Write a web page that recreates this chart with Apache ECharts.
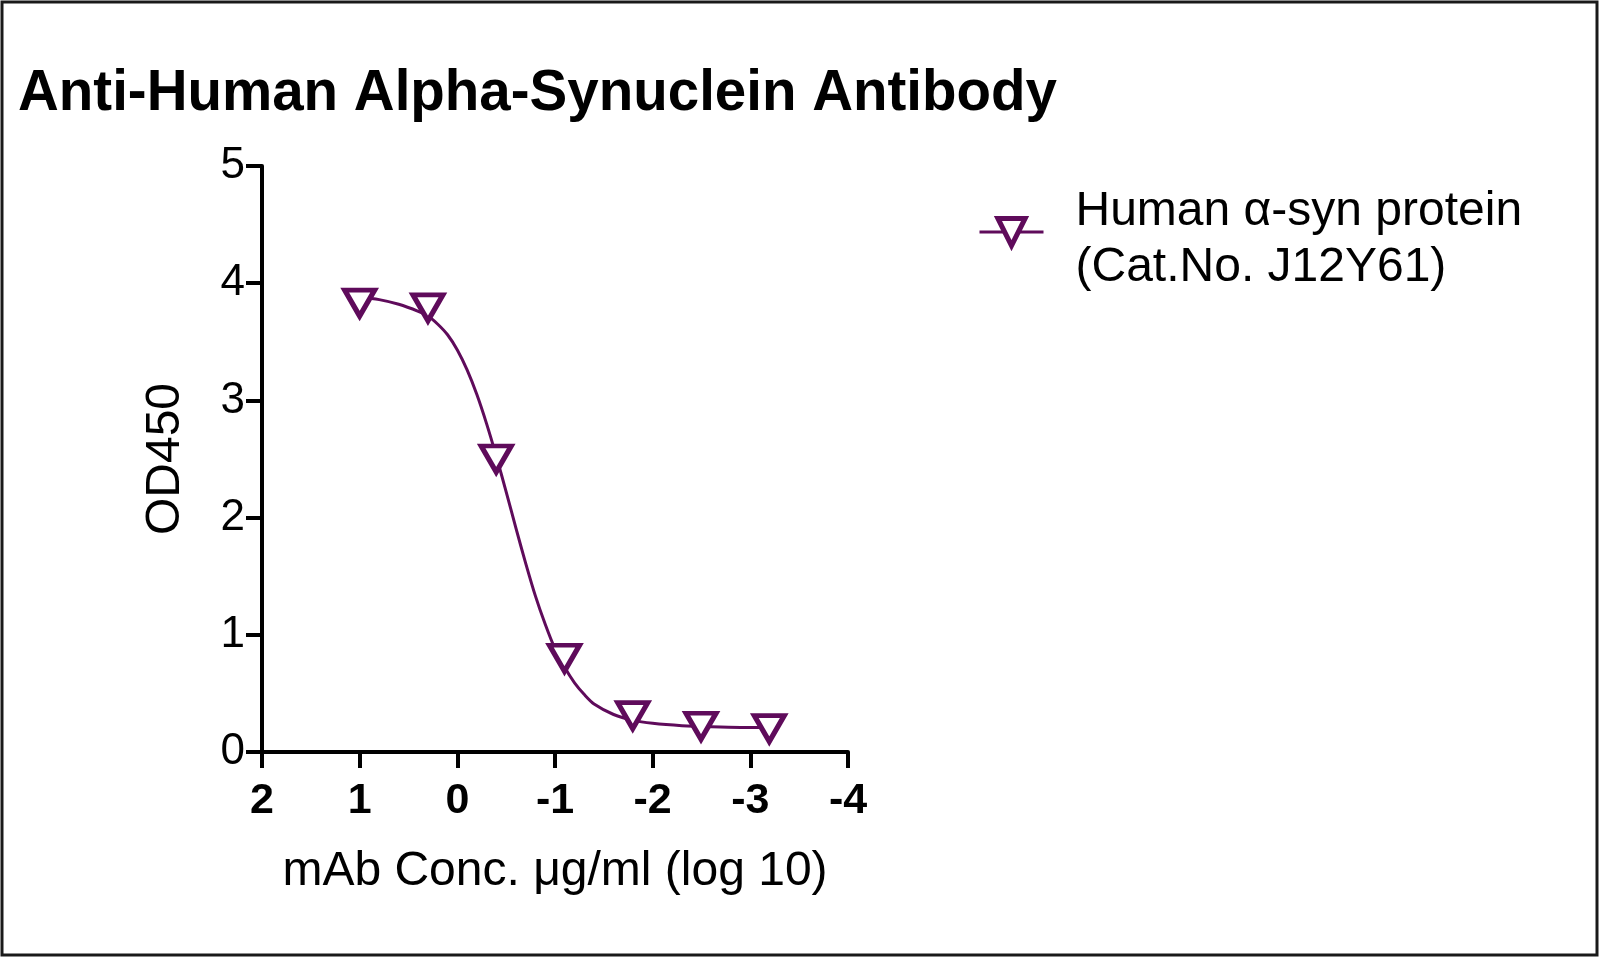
<!DOCTYPE html>
<html>
<head>
<meta charset="utf-8">
<title>Anti-Human Alpha-Synuclein Antibody</title>
<script src="https://cdn.jsdelivr.net/npm/echarts@6/dist/echarts.min.js"></script>
<style>
  html, body { margin: 0; padding: 0; background: #fff; }
  #chart { width: 1600px; height: 959px; }
</style>
</head>
<body>
<div id="chart"></div>
<script>
// 数据: log10 浓度 与 OD450
var seriesName = 'Human α-syn protein\n(Cat.No. J12Y61)';
var logConc = [1, 0.301, -0.398, -1.097, -1.796, -2.495, -3.194];
var od450 = [3.83, 3.79, 2.50, 0.80, 0.31, 0.22, 0.20];

// 拟合曲线
var curveX = [1.0, 0.8, 0.6, 0.4, 0.3, 0.2, 0.1, 0.0, -0.1, -0.2, -0.3, -0.4, -0.5, -0.6, -0.7,
  -0.8, -0.9, -1.0, -1.1, -1.2, -1.3, -1.4, -1.6, -1.8, -2.0, -2.3, -2.6, -2.9, -3.194];
var curveY = [3.88, 3.86, 3.82, 3.76, 3.72, 3.65, 3.56, 3.43, 3.26, 3.05, 2.80, 2.52, 2.22, 1.91, 1.61,
  1.33, 1.09, 0.88, 0.72, 0.59, 0.49, 0.41, 0.32, 0.27, 0.245, 0.225, 0.215, 0.21, 0.21];

var xTicks = {min: -4, max: 2, interval: 1};
var yTicks = {min: 0, max: 5, interval: 1};

var purple = '#5f0b5b';
var font = '"Liberation Sans", Arial, sans-serif';

var chart = echarts.init(document.getElementById('chart'));

var curveData = [];
for (var i = 0; i < curveX.length; i++) {
  curveData.push([curveX[i], curveY[i]]);
}
var pointData = [];
for (var j = 0; j < logConc.length; j++) {
  pointData.push([logConc[j], od450[j]]);
}

chart.setOption({
  backgroundColor: '#fff',
  animation: false,
  title: {
    text: 'Anti-Human Alpha-Synuclein Antibody',
    left: 13,
    top: 61,
    textStyle: {
      fontFamily: font,
      fontSize: 56.5,
      fontWeight: 'bold',
      color: '#000'
    }
  },
  legend: {
    data: [seriesName],
    left: 973,
    top: 163,
    itemWidth: 64,
    itemHeight: 34,
    itemStyle: { color: '#fff', borderColor: purple, borderWidth: 5 },
    lineStyle: { color: purple, width: 3 },
    // 上面加一行空白, 让图标比文字中心略高
    formatter: function (name) {
      return '{s| }\n' + name;
    },
    textStyle: {
      fontFamily: font,
      fontSize: 48,
      lineHeight: 56,
      color: '#000',
      padding: [0, 0, 0, 27],
      rich: {
        s: { fontSize: 10, lineHeight: 16 }
      }
    }
  },
  grid: {
    left: 262,
    top: 166,
    right: 752,
    bottom: 207
  },
  xAxis: {
    type: 'value',
    inverse: true,
    min: xTicks.min,
    max: xTicks.max,
    interval: xTicks.interval,
    name: 'mAb Conc. μg/ml (log 10)',
    nameLocation: 'middle',
    nameGap: 96,
    nameTextStyle: {
      fontFamily: font,
      fontSize: 48,
      color: '#000'
    },
    axisLine: { onZero: false, lineStyle: { color: '#000', width: 4 } },
    axisTick: { show: true, length: 16, lineStyle: { color: '#000', width: 4 } },
    axisLabel: {
      margin: 28,
      fontFamily: font,
      fontSize: 43,
      fontWeight: 'bold',
      color: '#000'
    },
    splitLine: { show: false }
  },
  yAxis: {
    type: 'value',
    min: yTicks.min,
    max: yTicks.max,
    interval: yTicks.interval,
    name: 'OD450',
    nameLocation: 'middle',
    nameGap: 72,
    nameTextStyle: {
      fontFamily: font,
      fontSize: 48,
      color: '#000'
    },
    axisLine: { show: true, onZero: false, lineStyle: { color: '#000', width: 4 } },
    axisTick: { show: true, length: 16, lineStyle: { color: '#000', width: 4 } },
    axisLabel: {
      margin: 17,
      fontFamily: font,
      fontSize: 44,
      color: '#000'
    },
    splitLine: { show: false }
  },
  series: [
    {
      name: seriesName,
      type: 'line',
      data: curveData,
      smooth: 0.3,
      showSymbol: false,
      symbol: 'triangle',
      symbolRotate: 180,
      lineStyle: { color: purple, width: 3 },
      itemStyle: { color: '#fff', borderColor: purple, borderWidth: 5 },
      z: 2
    },
    {
      name: seriesName,
      type: 'scatter',
      data: pointData,
      symbol: 'triangle',
      symbolRotate: 180,
      symbolSize: [30, 26],
      itemStyle: { color: '#fff', borderColor: purple, borderWidth: 5, opacity: 1 },
      z: 3
    }
  ],
  graphic: [
    {
      type: 'rect',
      shape: { x: 2, y: 2, width: 1595, height: 953 },
      style: { fill: 'none', stroke: '#1a1a1a', lineWidth: 3 },
      silent: true
    }
  ]
});
</script>
</body>
</html>
